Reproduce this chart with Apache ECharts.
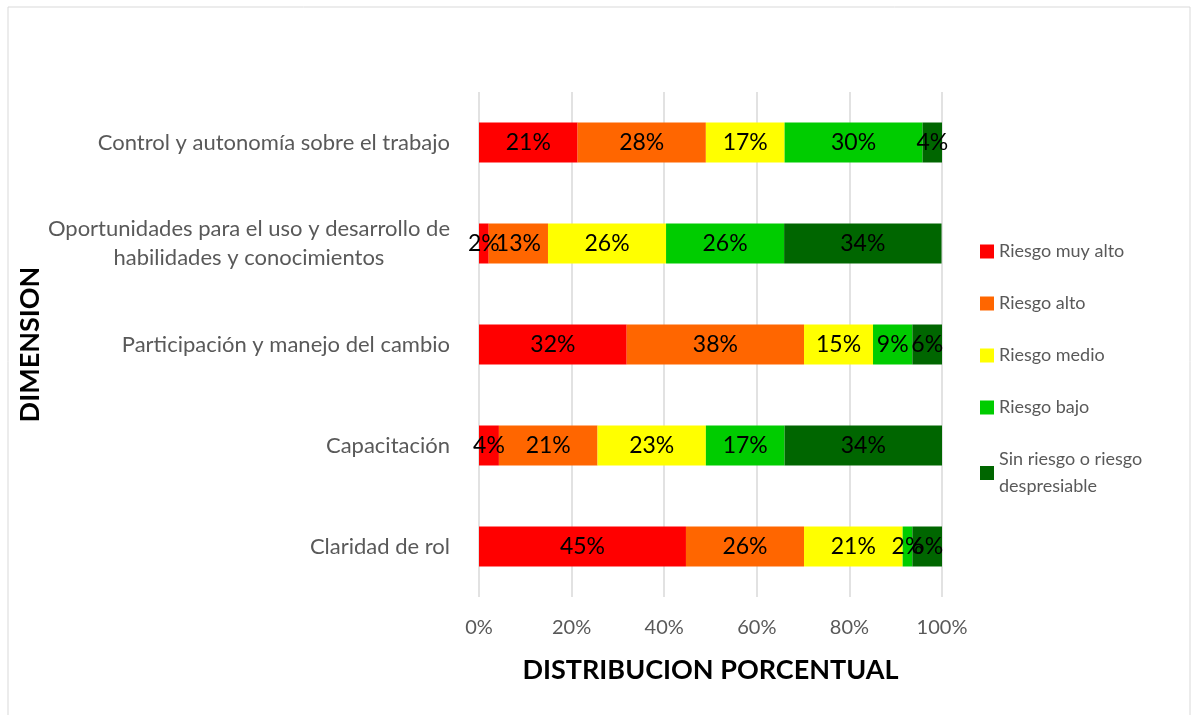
<!DOCTYPE html>
<html>
<head>
<meta charset="utf-8">
<script src="https://cdn.jsdelivr.net/npm/echarts@6/dist/echarts.min.js"></script>
<style>
  html, body { margin: 0; padding: 0; background: #fff; }
  #chart { width: 1195px; height: 715px; }
</style>
</head>
<body>
<div id="chart"></div>
<script>
// dimensiones (de abajo hacia arriba, como las pinta el eje de categorías)
var dimensiones = [
  'Claridad de rol',
  'Capacitación',
  'Participación y manejo del cambio',
  'Oportunidades para el uso y desarrollo de\nhabilidades y conocimientos',
  'Control y autonomía sobre el trabajo'
];

var niveles = ['Riesgo muy alto', 'Riesgo alto', 'Riesgo medio', 'Riesgo bajo', 'Sin riesgo o riesgo\ndespresiable'];
var colores = ['#ff0000', '#ff6600', '#ffff00', '#00cc00', '#006600'];

// porcentajes por nivel de riesgo
var muyAlto = [44.7, 4.3, 31.9, 2.1, 21.3];
var alto = [25.5, 21.3, 38.3, 12.8, 27.7];
var medio = [21.3, 23.4, 14.9, 25.5, 17.0];
var bajo = [2.1, 17.0, 8.5, 25.5, 29.8];
var sinRiesgo = [6.4, 34.0, 6.4, 34.0, 4.3];

var valores = [muyAlto, alto, medio, bajo, sinRiesgo];
var ticks = [0, 20, 40, 60, 80, 100];

var fuente = 'Lato, Carlito, "Open Sans", sans-serif';

var myChart = echarts.init(document.getElementById('chart'));

var series = niveles.map(function (n, i) {
  return {
    name: n,
    type: 'bar',
    stack: 'total',
    barWidth: 40,
    data: valores[i],
    itemStyle: { color: colores[i] },
    label: {
      show: true,
      position: 'inside',
      color: '#000',
      fontSize: 23,
      fontFamily: fuente,
      formatter: function (p) { return Math.round(p.value) + '%'; }
    },
    emphasis: { disabled: true }
  };
});

myChart.setOption({
  animation: false,
  textStyle: { fontFamily: fuente },
  graphic: [{
    type: 'rect',
    shape: { x: 8, y: 7, width: 1182, height: 720 },
    style: { fill: 'none', stroke: '#d9d9d9', lineWidth: 1 },
    silent: true
  }],
  grid: { left: 479, right: 253, top: 92, bottom: 118 },
  legend: {
    orient: 'vertical',
    left: 975,
    top: 233,
    itemWidth: 14,
    itemHeight: 14,
    itemGap: 25,
    icon: 'rect',
    textStyle: { color: '#595959', fontSize: 18, fontFamily: fuente, lineHeight: 27 },
    data: niveles
  },
  xAxis: {
    type: 'value',
    min: 0,
    max: 100,
    interval: 20,
    name: 'DISTRIBUCION PORCENTUAL',
    nameLocation: 'middle',
    nameGap: 60,
    nameTextStyle: { color: '#000', fontSize: 27, fontWeight: 'bold', fontFamily: fuente },
    axisLine: { show: false },
    axisTick: { show: false },
    axisLabel: {
      color: '#595959',
      fontSize: 20,
      margin: 21,
      formatter: function (v) { return ticks.indexOf(v) >= 0 ? v + '%' : ''; }
    },
    splitLine: { lineStyle: { color: '#d9d9d9', width: 1.5 } }
  },
  yAxis: {
    type: 'category',
    data: dimensiones,
    name: 'DIMENSION',
    nameLocation: 'middle',
    nameGap: 430,
    nameRotate: 90,
    nameTextStyle: { color: '#000', fontSize: 27, fontWeight: 'bold', fontFamily: fuente },
    axisLine: { show: false },
    axisTick: { show: false },
    axisLabel: {
      color: '#595959',
      fontSize: 22,
      margin: 29,
      lineHeight: 29,
      formatter: function (v) {
        return v.split('\n').map(function (s) { return '{c|' + s + '}'; }).join('\n');
      },
      rich: { c: { align: 'center', fontSize: 22, color: '#595959', lineHeight: 29 } }
    }
  },
  series: series
});
</script>
</body>
</html>
